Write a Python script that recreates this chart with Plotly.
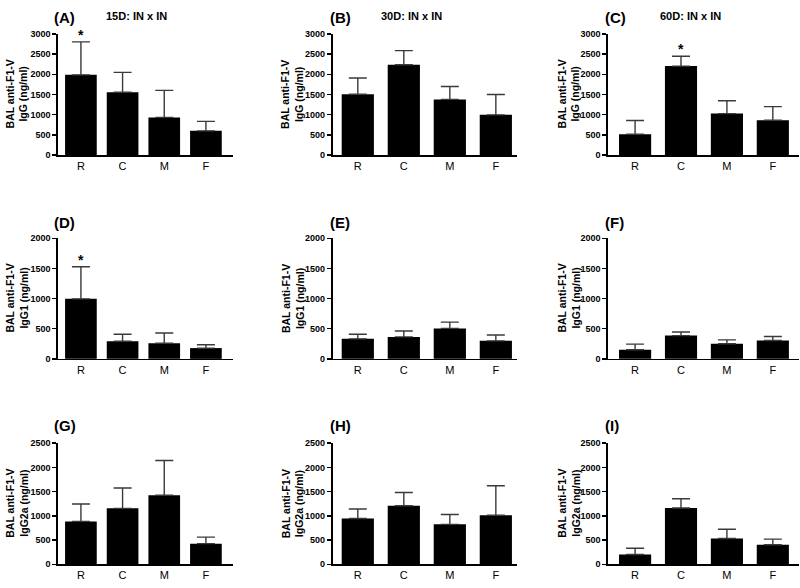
import plotly.graph_objects as go

categories = ["R", "C", "M", "F"]

# Panel data: means and upper error (SEM)
igg_15d = [1985, 1557, 932, 600]
igg_15d_err = [815, 488, 668, 235]
igg_30d = [1508, 2234, 1378, 995]
igg_30d_err = [400, 350, 318, 505]
igg_60d = [514, 2201, 1027, 864]
igg_60d_err = [342, 245, 318, 334]

igg1_15d = [995, 293, 261, 179]
igg1_15d_err = [532, 115, 168, 55]
igg1_30d = [332, 364, 505, 299]
igg1_30d_err = [76, 98, 104, 98]
igg1_60d = [152, 386, 250, 304]
igg1_60d_err = [93, 60, 65, 66]

igg2a_15d = [885, 1155, 1426, 426]
igg2a_15d_err = [358, 419, 716, 135]
igg2a_30d = [946, 1209, 824, 1014]
igg2a_30d_err = [196, 271, 203, 608]
igg2a_60d = [203, 1162, 534, 405]
igg2a_60d_err = [128, 189, 189, 115]

panel_letters = ["(A)", "(B)", "(C)", "(D)", "(E)", "(F)", "(G)", "(H)", "(I)"]
column_titles = ["15D: IN x IN", "30D: IN x IN", "60D: IN x IN"]
row_ytitles = ["BAL anti-F1-V<br>IgG (ng/ml)", "BAL anti-F1-V<br>IgG1 (ng/ml)", "BAL anti-F1-V<br>IgG2a (ng/ml)"]
row_ymax = [3000, 2000, 2500]
significant = {0: [0], 2: [1], 3: [0]}  # panel index -> category indices with '*'

means = [igg_15d, igg_30d, igg_60d, igg1_15d, igg1_30d, igg1_60d, igg2a_15d, igg2a_30d, igg2a_60d]
errs = [igg_15d_err, igg_30d_err, igg_60d_err, igg1_15d_err, igg1_30d_err, igg1_60d_err,
        igg2a_15d_err, igg2a_30d_err, igg2a_60d_err]

W, H = 800, 588
FONT = "Liberation Sans, Arial, Helvetica, sans-serif"

# layout geometry (pixels)
col_x = [(58, 233), (332.5, 517), (608, 799)]
col_range = [(-0.55, 3.65), (-0.55, 3.46), (-0.59, 3.57)]
col_barw = [0.76, 0.70, 0.70]
row_y = [(29.3, 152.7), (237.3, 360), (445.7, 569)]
label_x = [52, 328, 603]
label_y = [13, 221, 428]
subtitle_cx = [136, 411, 690.5]
ytitle_cx = [17, 292.5, 569]

fig = go.Figure()
layout = dict(
    width=W, height=H, margin=dict(l=0, r=0, t=0, b=0),
    paper_bgcolor="white", plot_bgcolor="white", showlegend=False,
    font=dict(family=FONT, color="black"),
)
annotations = []

for p in range(9):
    r, c = divmod(p, 3)
    n = p + 1
    xa = "x" if n == 1 else f"x{n}"
    ya = "y" if n == 1 else f"y{n}"
    fig.add_trace(go.Bar(
        x=categories, y=means[p], xaxis=xa, yaxis=ya,
        marker=dict(color="black", line=dict(width=0)),
        width=col_barw[c],
        error_y=dict(type="data", symmetric=False, array=errs[p],
                     arrayminus=[0] * 4, color="#3a3a3a", thickness=1.4, width=9),
    ))
    x0, x1 = col_x[c]
    y0, y1 = row_y[r]
    layout["xaxis" if n == 1 else f"xaxis{n}"] = dict(
        domain=[x0 / W, x1 / W], anchor=ya, range=list(col_range[c]),
        showline=True, linecolor="black", linewidth=1.6, ticks="",
        showgrid=False, zeroline=False,
        tickfont=dict(family=FONT, size=11, color="black"),
        categoryorder="array", categoryarray=categories,
    )
    layout["yaxis" if n == 1 else f"yaxis{n}"] = dict(
        domain=[1 - y1 / H, 1 - y0 / H], anchor=xa, range=[0, row_ymax[r]],
        dtick=500, tick0=0, showline=True, linecolor="black", linewidth=1.6,
        ticks="outside", ticklen=4, tickwidth=1.4, tickcolor="black",
        showgrid=False, zeroline=False,
        tickfont=dict(family=FONT, size=9, color="black", weight="bold"),
    )
    # panel letter
    annotations.append(dict(
        xref="paper", yref="paper", x=label_x[c] / W, y=1 - label_y[r] / H,
        xanchor="left", yanchor="middle", showarrow=False, text=panel_letters[p],
        font=dict(family=FONT, size=15, color="black", weight="bold"),
    ))
    # y title
    annotations.append(dict(
        xref="paper", yref="paper", x=ytitle_cx[c] / W, y=1 - (y0 + y1) / 2 / H,
        xanchor="center", yanchor="middle", showarrow=False, textangle=-90,
        text=row_ytitles[r],
        font=dict(family=FONT, size=10.5, color="black", weight="bold"),
    ))
    # significance stars
    for k in significant.get(p, []):
        annotations.append(dict(
            xref=xa, yref=ya, x=categories[k], y=means[p][k] + errs[p][k],
            xanchor="center", yanchor="bottom", yshift=-3, showarrow=False, text="*",
            font=dict(family=FONT, size=14, color="black", weight="bold"),
        ))

for c in range(3):
    annotations.append(dict(
        xref="paper", yref="paper", x=subtitle_cx[c] / W, y=1 - 11 / H,
        xanchor="center", yanchor="middle", showarrow=False, text=column_titles[c],
        font=dict(family=FONT, size=11, color="black", weight="bold"),
    ))

layout["annotations"] = annotations
fig.update_layout(**layout)
fig.write_html(
    "out.html",
    config={"displayModeBar": False, "staticPlot": True},
    post_script="document.body.style.margin='0';document.body.style.overflow='hidden';",
)
